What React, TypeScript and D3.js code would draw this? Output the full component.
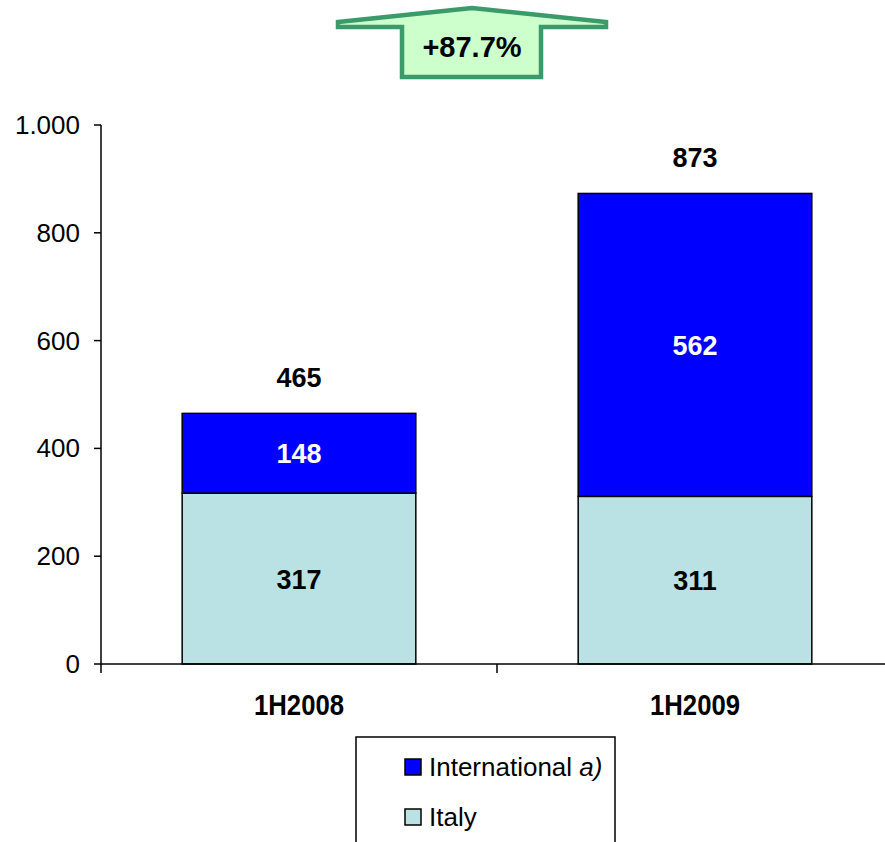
import React from "react";
import * as d3 from "d3";

const categories = ["1H2008", "1H2009"];
const italy = [317, 311];
const international = [148, 562];
const totals = [465, 873];
const yTicks = [0, 200, 400, 600, 800, 1000];
const growthLabel = "+87.7%";
const seriesNames = ["International", "Italy"];

const W = 885, H = 842;

export default function App() {
  const y = d3.scaleLinear().domain([0, 1000]).range([664, 125]);
  const x = d3.scaleBand<string>().domain(categories).range([101, 893]).paddingInner(0.41).paddingOuter(0.205);
  const fmt = (v: number) => (v >= 1000 ? d3.format(",")(v).replace(",", ".") : String(v));
  const font = "Arial, 'Liberation Sans', sans-serif";
  const arrow = "M338,22 L472,8 L606,22 L606,27 L541,27 L541,77 L402,77 L402,27 L338,27 Z";
  return (
    <svg width={W} height={H} style={{ position: "absolute", left: 0, top: 0 }} fontFamily={font}>
      <rect width={W} height={H} fill="#fff" />
      {/* growth arrow */}
      <path d={arrow} fill="#ccffcc" stroke="#3a9a6a" strokeWidth={4.5} strokeLinejoin="miter" />
      <text x={472} y={57} textAnchor="middle" fontSize={29} fontWeight="bold">{growthLabel}</text>
      {/* bars */}
      {categories.map((c, i) => {
        const bx = x(c)!;
        const bw = x.bandwidth();
        const cx = bx + bw / 2;
        return (
          <g key={c}>
            <rect x={bx} y={y(italy[i])} width={bw} height={y(0) - y(italy[i])} fill="#bae1e3" stroke="#000" strokeWidth={1.5} />
            <rect x={bx} y={y(italy[i] + international[i])} width={bw} height={y(italy[i]) - y(italy[i] + international[i])} fill="#0000ff" stroke="#000" strokeWidth={1.5} />
            <text x={cx} y={(y(0) + y(italy[i])) / 2 + 10} textAnchor="middle" fontSize={27} fontWeight="bold">{italy[i]}</text>
            <text x={cx} y={(y(italy[i]) + y(italy[i] + international[i])) / 2 + 10} textAnchor="middle" fontSize={27} fontWeight="bold" fill="#fff">{international[i]}</text>
            <text x={cx} y={y(totals[i]) - 26} textAnchor="middle" fontSize={27} fontWeight="bold">{totals[i]}</text>
            <text x={cx} y={715} textAnchor="middle" fontSize={29} fontWeight="bold" textLength={90} lengthAdjust="spacingAndGlyphs">{c}</text>
          </g>
        );
      })}
      {/* y axis */}
      <line x1={101} x2={101} y1={125} y2={665} stroke="#000" strokeWidth={1.5} />
      {yTicks.map((t) => (
        <g key={t}>
          <line x1={94} x2={101} y1={y(t)} y2={y(t)} stroke="#000" strokeWidth={1.5} />
          <text x={80} y={y(t) + 9} textAnchor="end" fontSize={26}>{fmt(t)}</text>
        </g>
      ))}
      {/* x axis */}
      <line x1={101} x2={893} y1={664} y2={664} stroke="#000" strokeWidth={1.5} />
      {[101, 497].map((px) => (
        <line key={px} x1={px} x2={px} y1={664} y2={673} stroke="#000" strokeWidth={1.5} />
      ))}
      {/* legend */}
      <rect x={356} y={737} width={259} height={120} fill="#fff" stroke="#000" strokeWidth={1.5} />
      <rect x={405} y={759} width={16} height={16} fill="#0000ff" stroke="#000" strokeWidth={1.5} />
      <text x={429} y={776} fontSize={26}>{seriesNames[0]} <tspan fontStyle="italic">a)</tspan></text>
      <rect x={405} y={809} width={16} height={16} fill="#bae1e3" stroke="#000" strokeWidth={1.5} />
      <text x={429} y={826} fontSize={26}>{seriesNames[1]}</text>
    </svg>
  );
}
